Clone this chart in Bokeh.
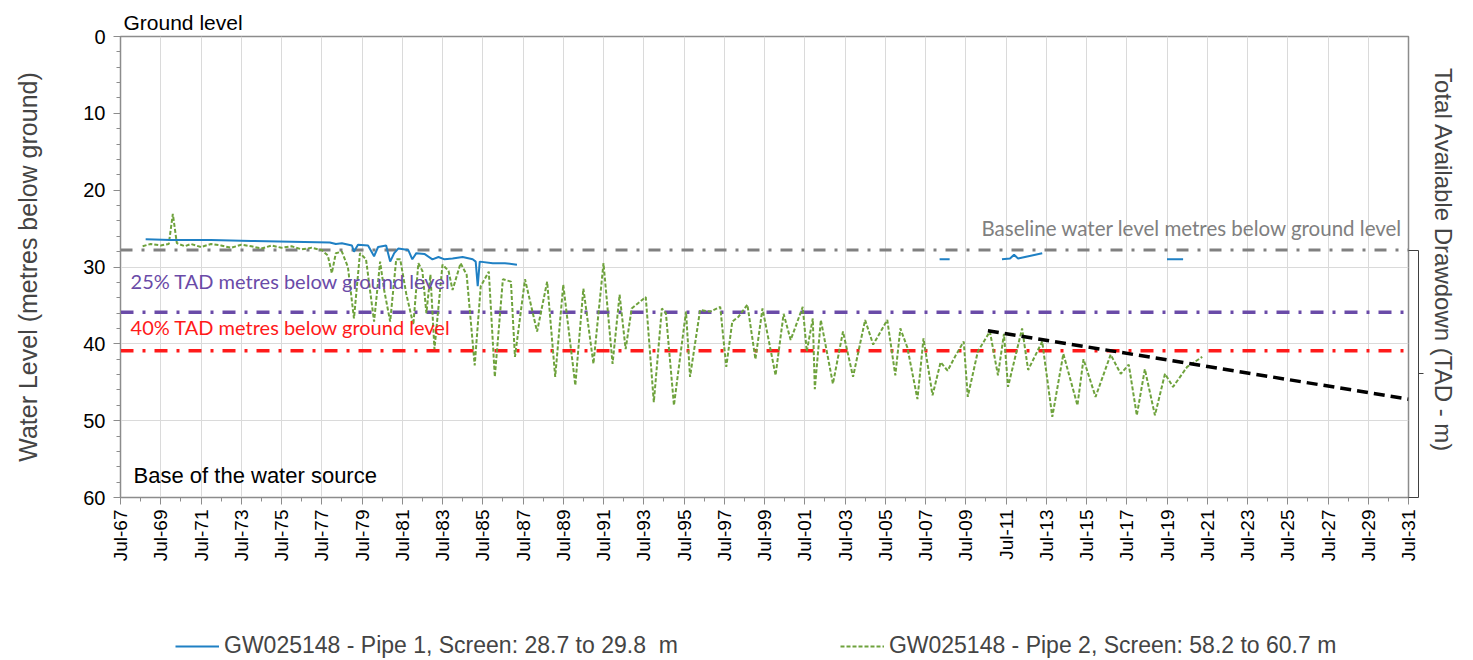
import math
from bokeh.plotting import figure
from bokeh.layouts import column
from bokeh.models import (Range1d, FixedTicker, SingleIntervalTicker, Label,
                          Legend, LegendItem, LinearAxis)
from bokeh.embed import file_html
from bokeh.resources import INLINE

# ---------------- data ----------------
TICK_YEARS = [1967.5 + 2 * i for i in range(33)]
TICK_LABELS = ["Jul-%02d" % ((67 + 2 * i) % 100) for i in range(33)]
MINOR_YEARS = [1967.5 + i for i in range(65)]

pipe1_year = [1968.75, 1970.0, 1972.0, 1974.0, 1976.0, 1977.9, 1978.2, 1978.5, 1979.0, 1979.1,
              1979.3, 1979.8, 1980.1, 1980.3, 1980.7, 1980.9, 1981.1, 1981.3, 1981.8, 1982.0,
              1982.2, 1982.6, 1983.0, 1983.3, 1983.6, 1984.0, 1984.5, 1985.0, 1985.15, 1985.25,
              1985.35, 1986.0, 1986.6, 1987.2,
              float("nan"), 2008.2, 2008.7,
              float("nan"), 2011.3, 2011.7, 2011.9, 2012.1, 2013.3,
              float("nan"), 2019.5, 2020.3]
pipe1_level = [26.4, 26.5, 26.5, 26.6, 26.7, 26.8, 27.0, 26.9, 27.2, 28.0,
               27.1, 27.2, 28.6, 27.4, 27.2, 29.3, 28.2, 27.6, 27.8, 29.0,
               28.2, 28.3, 29.0, 28.7, 29.0, 28.9, 28.7, 29.0, 29.3, 32.5,
               29.3, 29.5, 29.5, 29.7,
               float("nan"), 29.0, 29.0,
               float("nan"), 29.0, 28.9, 28.4, 28.9, 28.2,
               float("nan"), 29.0, 29.0]

pipe2_year = [1968.6, 1969.0, 1969.5, 1969.9, 1970.1, 1970.3, 1970.7, 1971.0, 1971.5, 1972.0,
              1972.5, 1973.0, 1973.5, 1974.0, 1974.5, 1975.0, 1975.5, 1976.0, 1976.5, 1977.0,
              1977.5, 1977.8, 1978.0, 1978.2, 1978.5, 1978.8, 1979.1, 1979.4, 1979.7, 1980.1,
              1980.4, 1980.6, 1980.9, 1981.2, 1981.4, 1981.7, 1982.05, 1982.3, 1982.5, 1982.7,
              1982.9, 1983.1, 1983.5, 1983.8, 1984.0, 1984.4, 1984.7, 1985.1, 1985.4, 1985.8,
              1986.1, 1986.5, 1986.9, 1987.1, 1987.6, 1988.2, 1988.7, 1989.1, 1989.5, 1990.1,
              1990.5, 1991.0, 1991.5, 1991.95, 1992.3, 1992.6, 1992.9, 1993.6, 1994.0, 1994.4,
              1994.6, 1995.0, 1995.6, 1995.8, 1996.3, 1996.8, 1997.3, 1997.6, 1997.9, 1998.2,
              1998.65, 1999.05, 1999.4, 2000.05, 2000.45, 2000.8, 2001.4, 2001.6, 2001.9, 2002.0,
              2002.3, 2002.9, 2003.4, 2003.9, 2004.5, 2004.9, 2005.6, 2006.0, 2006.25, 2006.6,
              2007.1, 2007.4, 2007.85, 2008.25, 2008.6, 2009.0, 2009.4, 2009.6, 2010.1, 2010.7,
              2011.1, 2011.4, 2011.6, 2012.3, 2012.6, 2013.3, 2013.8, 2014.35, 2015.05, 2015.35,
              2015.95, 2016.7, 2017.2, 2017.6, 2018.0, 2018.4, 2018.9, 2019.4, 2019.8, 2020.5,
              2021.25]
pipe2_level = [27.3, 27.0, 27.2, 27.0, 23.1, 26.9, 27.3, 27.0, 27.4, 27.0,
               27.2, 27.5, 27.1, 27.3, 27.6, 27.2, 27.5, 27.3, 27.7, 27.5,
               27.8, 28.5, 30.8, 28.2, 28.0, 30.0, 36.7, 28.2, 29.0, 37.1,
               29.3, 33.0, 37.1, 29.0, 29.0, 33.5, 37.5, 29.5, 30.5, 36.0,
               31.0, 40.7, 29.7, 30.5, 33.0, 29.5, 31.0, 42.8, 32.5, 30.6,
               44.3, 31.6, 31.9, 41.7, 31.6, 38.4, 31.9, 44.3, 32.3, 45.4,
               32.8, 42.6, 29.5, 42.6, 33.6, 40.7, 35.4, 33.9, 47.6, 35.4,
               36.0, 48.0, 35.8, 44.3, 35.6, 35.8, 35.2, 43.0, 37.1, 36.5,
               34.9, 42.0, 35.4, 44.1, 36.1, 39.5, 35.2, 41.0, 36.7, 45.9,
               36.9, 45.2, 38.4, 44.3, 36.9, 40.1, 36.9, 44.1, 38.0, 40.5,
               47.2, 39.3, 46.7, 42.4, 43.5, 41.5, 39.7, 46.9, 41.0, 38.4,
               44.1, 38.7, 45.6, 38.0, 43.4, 39.7, 49.5, 41.3, 48.0, 42.0,
               46.9, 41.4, 43.9, 42.7, 49.3, 43.3, 49.3, 43.9, 45.6, 43.0,
               41.7]

baseline_level = 27.8
tad25_level = 35.9
tad40_level = 40.9
base_of_source = 60.0
tad_mid = 43.9
trend_year = [2010.6, 2031.5]
trend_level = [38.3, 47.2]

LEGEND_LABELS = ["GW025148 - Pipe 1, Screen: 28.7 to 29.8  m",
                 "GW025148 - Pipe 2, Screen: 58.2 to 60.7 m"]

# ---------------- styles ----------------
AX_FONT = "Liberation Sans"
CAL = "Lato"
BLUE = "#1f80c4"
GREEN = "#6ea23c"
GRAY = "#808080"
PURPLE = "#6a4ba8"
RED = "#ff1a1a"

W = 1473

# ---------------- main figure ----------------
p = figure(width=W, height=585, x_range=Range1d(1967.5, 2031.5), y_range=Range1d(60, 0),
           output_backend="svg", toolbar_location=None,
           min_border_left=120, min_border_right=65, min_border_top=36, min_border_bottom=88)
p.background_fill_color = "white"
p.border_fill_color = "white"
p.outline_line_color = "#8c8c8c"
p.outline_line_width = 1.5

p.title.text = "Ground level"
p.title.align = "left"
p.title.offset = 3
p.title.standoff = 6
p.title.text_font = AX_FONT
p.title.text_font_size = "21px"
p.title.text_font_style = "normal"
p.title.text_color = "black"

# x axis
p.xaxis.ticker = FixedTicker(ticks=TICK_YEARS, minor_ticks=MINOR_YEARS)
p.xaxis.major_label_overrides = {t: l for t, l in zip(TICK_YEARS, TICK_LABELS)}
p.xaxis.major_label_orientation = math.pi / 2
p.xaxis.major_label_text_font = AX_FONT
p.xaxis.major_label_text_font_size = "19px"
p.xaxis.major_label_text_color = "black"
p.xaxis.axis_line_color = "#8c8c8c"
p.xaxis.major_tick_line_color = "#8c8c8c"
p.xaxis.minor_tick_line_color = "#8c8c8c"
p.xaxis.major_tick_out = 7
p.xaxis.minor_tick_out = 4
p.xaxis.major_tick_in = 0
p.xaxis.minor_tick_in = 0
p.xaxis.major_label_standoff = 5

# y axis
p.yaxis.ticker = SingleIntervalTicker(interval=10, num_minor_ticks=5)
p.yaxis.major_label_text_font = AX_FONT
p.yaxis.major_label_text_font_size = "20px"
p.yaxis.major_label_text_color = "black"
p.yaxis.axis_label = "Water Level (metres below ground)"
p.yaxis.axis_label_text_font = AX_FONT
p.yaxis.axis_label_text_font_size = "25px"
p.yaxis.axis_label_text_font_style = "normal"
p.yaxis.axis_label_standoff = 38
p.yaxis.axis_line_color = "#8c8c8c"
p.yaxis.major_tick_line_color = "#8c8c8c"
p.yaxis.minor_tick_line_color = "#8c8c8c"
p.yaxis.major_tick_out = 7
p.yaxis.minor_tick_out = 4
p.yaxis.major_tick_in = 0
p.yaxis.minor_tick_in = 0
p.yaxis.major_label_standoff = 8

p.xgrid.grid_line_color = "#dadada"
p.ygrid.grid_line_color = "#dadada"

# right-hand bracket + TAD title (built from two right axes, minor ticks only)
ax_r1 = LinearAxis(ticker=FixedTicker(ticks=[], minor_ticks=[baseline_level, base_of_source]),
                   axis_line_color=None, major_tick_line_color=None,
                   minor_tick_line_color="#404040",
                   major_tick_out=10, major_tick_in=0, minor_tick_out=10, minor_tick_in=0,
                   major_label_standoff=0)
ax_r2 = LinearAxis(bounds=(baseline_level, base_of_source),
                   ticker=FixedTicker(ticks=[], minor_ticks=[tad_mid]),
                   axis_line_color="#404040", major_tick_line_color=None,
                   minor_tick_line_color="#404040",
                   major_tick_out=5, major_tick_in=0, minor_tick_out=5, minor_tick_in=0,
                   major_label_standoff=0,
                   axis_label="Total Available  Drawdown  (TAD - m)",
                   axis_label_text_font=AX_FONT, axis_label_text_font_size="24px",
                   axis_label_text_font_style="normal", axis_label_standoff=6)
p.add_layout(ax_r1, "right")
p.add_layout(ax_r2, "right")

# reference lines
x_full = [1967.5, 2031.5]
p.line(x_full, [baseline_level] * 2, line_color=GRAY, line_width=3, line_dash="12 9 3 9")
p.line(x_full, [tad25_level] * 2, line_color=PURPLE, line_width=3.5, line_dash="13 9 3 9")
p.line(x_full, [tad40_level] * 2, line_color=RED, line_width=3.5, line_dash="13 9 3 9")

# series
p.line(pipe2_year, pipe2_level, line_color=GREEN, line_width=2, line_dash="4 2")
p.line(pipe1_year, pipe1_level, line_color=BLUE, line_width=2)

# trend
p.line(trend_year, trend_level, line_color="black", line_width=3.5, line_dash="11 6")

# annotations
p.add_layout(Label(x=2031.2, y=24.9, text="Baseline water level metres below ground level",
                   text_font=CAL, text_font_size="20.5px", text_color=GRAY,
                   text_align="right", text_baseline="middle"))
p.add_layout(Label(x=1968.0, y=31.8, text="25% TAD metres below ground level",
                   text_font=CAL, text_font_size="20px", text_color=PURPLE,
                   text_align="left", text_baseline="middle"))
p.add_layout(Label(x=1968.0, y=37.8, text="40% TAD metres below ground level",
                   text_font=CAL, text_font_size="20px", text_color=RED,
                   text_align="left", text_baseline="middle"))
p.add_layout(Label(x=1968.15, y=57.1, text="Base of the water source",
                   text_font=AX_FONT, text_font_size="22px", text_color="black",
                   text_align="left", text_baseline="middle"))

# ---------------- legend strip ----------------
pl = figure(width=W, height=75, x_range=Range1d(0, 1), y_range=Range1d(0, 1),
            x_axis_type=None, y_axis_type=None, output_backend="svg",
            toolbar_location=None, min_border=0)
pl.outline_line_color = None
pl.xgrid.visible = False
pl.ygrid.visible = False
l1 = pl.line([5, 6], [5, 5], line_color=BLUE, line_width=2)
l2 = pl.line([5, 6], [5, 5], line_color=GREEN, line_width=2, line_dash="4 2")
legend = Legend(items=[LegendItem(label=LEGEND_LABELS[0], renderers=[l1]),
                       LegendItem(label=LEGEND_LABELS[1], renderers=[l2])],
                orientation="horizontal", location=(55, 1), padding=0, spacing=162,
                glyph_width=44, glyph_height=20, label_height=20, label_standoff=5,
                label_text_font=AX_FONT, label_text_font_size="23px",
                border_line_color=None, background_fill_alpha=0)
pl.add_layout(legend, "center")

layout = column(p, pl, spacing=0)
open("out.html", "w").write(file_html(layout, INLINE))
